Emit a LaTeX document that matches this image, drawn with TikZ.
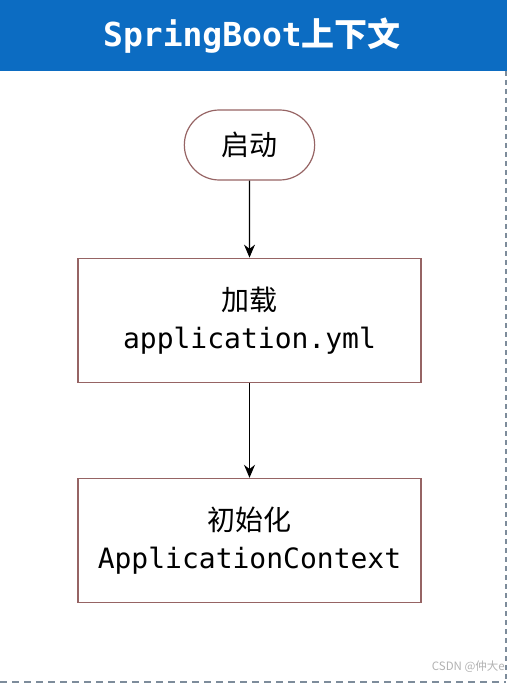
\documentclass[tikz,border=0pt]{standalone}
\usepackage{fontspec}
\setmonofont{DejaVu Sans Mono}
\newfontfamily\cjk{Noto Sans CJK SC}
\usepackage{xcolor}
\usetikzlibrary{positioning, arrows.meta, shapes.misc}
\definecolor{headblue}{RGB}{12,108,194}
\definecolor{boxline}{RGB}{150,100,100}
\definecolor{frameline}{RGB}{125,140,155}
\tikzset{
    flowbox/.style={rectangle, draw=boxline, line width=1.2pt, minimum width=343pt, minimum height=124pt, align=center, font=\fontsize{28}{38}\selectfont},
    arrow/.style={line width=1.2pt, -{Stealth[length=13pt, width=11pt]}}
}

\begin{document}
\begin{tikzpicture}[x=1pt, y=1pt, node distance=77pt,
    startbox/.style={rounded rectangle, draw=boxline, line width=1.2pt, minimum width=137pt, minimum height=70pt, font=\cjk\fontsize{28}{34}\selectfont},
    framedash/.style={frameline, line width=2pt}]
    \useasboundingbox (0,0) rectangle (511,-684);

    % Header
    \fill[headblue] (0,0) rectangle (507,-71);
    \node (title) [text=white, font=\fontsize{33}{40}\selectfont] at (252,-36) {{\ttfamily\bfseries SpringBoot}{\cjk\bfseries 上下文}};

    % Dashed frame
    \coordinate (frametop) at (506,-71);
    \coordinate (framecorner) at (506,-682);
    \coordinate (frameleft) at (0,-682);
    \draw[framedash, dash pattern=on 5pt off 4pt] (frametop) -- (framecorner);
    \draw[framedash, dash pattern=on 7pt off 5pt] (frameleft) -- (framecorner);

    % Flow
    \node (start) [startbox] at (249.5,-145) {启动};
    \node (load) [flowbox, below=77pt of start] {{\cjk 加载}\\{\ttfamily application.yml}};
    \node (init) [flowbox, below=95pt of load] {{\cjk 初始化}\\{\ttfamily ApplicationContext}};

    % Arrows
    \draw [arrow] (start) -- (load);
    \draw [arrow] (load) -- (init);

    % Watermark
    \node (mark) [anchor=east, text=black!30, font=\cjk\fontsize{11.5}{13}\selectfont, inner sep=0pt] at (505,-667) {CSDN @仲大e};
\end{tikzpicture}
\end{document}
